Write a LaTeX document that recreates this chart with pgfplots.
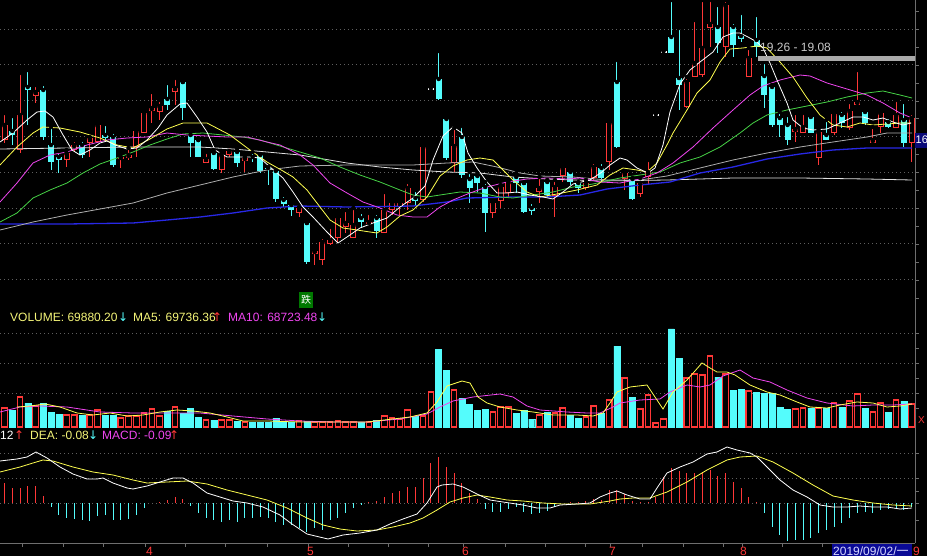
\documentclass[border=0pt]{standalone}
\usepackage{pgfplots}
\pgfplotsset{compat=1.18}
\usepackage{pgfplotstable}
\usepackage{fontspec}
\setmainfont{Liberation Sans}
\newfontfamily\dv{DejaVu Sans}
\newfontfamily\cjk{Noto Sans CJK SC}

\definecolor{kred}{RGB}{255,55,55}
\definecolor{kcyan}{RGB}{84,252,252}
\definecolor{kyel}{RGB}{255,255,80}
\definecolor{kmag}{RGB}{240,70,240}
\definecolor{kgrn}{RGB}{70,210,70}
\definecolor{kgray}{RGB}{175,175,175}
\definecolor{kblue}{RGB}{40,40,230}
\definecolor{kgrid}{RGB}{95,95,95}
\definecolor{kframe}{RGB}{110,110,110}
\definecolor{ktxt}{RGB}{245,245,120}
\definecolor{kdate}{RGB}{10,10,150}
\definecolor{kdatetxt}{RGB}{215,215,255}
\definecolor{kband}{RGB}{170,170,170}
\definecolor{kbandtxt}{RGB}{200,200,200}
\definecolor{kbox}{RGB}{10,10,120}
\definecolor{kdie}{RGB}{0,120,0}
\definecolor{kwhite}{RGB}{225,225,225}

% candles: i, high, body top, body bottom, low (screen px, top = 0), volume (px)
\pgfplotstableread{
i h t b l v
0 113 125 140 143 19
2 73 115 150 153 30
4 85 92 96 103 21
8 150 153 160 167 12
9 140 145 150 152 12
11 137 138 143 157 12
12 122 125 142 143 17
15 153 157 159 168 9
16 148 155 158 160 11
17 128 131 147 157 11
18 110 113 133 133 14
19 92 108 111 123 18
20 100 106 112 120 11
22 78 88 92 105 20
26 152 159 163 163 7
28 153 155 170 173 7
29 146 151 155 157 7
31 157 158 161 172 5
38 207 208 213 217 6
40 250 251 254 265 5
41 237 242 260 265 5
42 227 240 244 245 5
43 217 218 238 243 6
44 210 223 227 233 5
45 208 225 238 238 5
47 213 222 224 225 5
49 192 210 233 233 11
50 200 203 210 215 9
51 202 203 207 215 8
52 182 188 203 210 17
54 147 147 200 202 11
58 128 146 163 172 37
63 202 203 213 218 15
64 185 187 201 208 20
65 180 182 193 198 20
69 177 188 192 203 12
71 180 187 196 217 14
72 167 168 176 182 19
75 180 183 188 190 10
76 162 167 178 180 21
78 123 123 162 170 27
80 172 173 179 190 49
82 178 183 194 197 18
83 160 172 177 185 32
88 77 82 107 108 49
89 20 63 77 77 53
90 0 48 75 77 52
91 0 24 28 47 71
93 0 5 47 57 53
96 48 58 77 77 36
102 113 129 132 142 18
103 113 127 133 133 19
105 130 132 158 165 19
107 112 114 133 135 24
109 102 111 128 130 26
110 70 102 105 105 33
112 127 140 143 143 15
113 113 113 127 133 24
115 100 115 128 128 27
117 113 118 143 162 23
}\candup

\pgfplotstableread{
i h t b l v
1 116 131 135 145 17
3 70 87 90 125 24
5 84 90 137 140 24
6 127 145 162 170 15
7 151 157 160 173 13
10 140 145 155 158 12
13 124 135 138 142 12
14 132 137 165 167 12
21 83 99 105 110 16
23 82 82 108 120 14
24 132 135 143 157 19
25 140 140 157 157 10
27 150 153 169 170 7
30 149 152 163 167 6
32 152 157 158 162 5
33 154 155 171 173 5
34 167 168 169 185 5
35 170 171 199 202 9
36 195 200 204 207 6
37 203 205 210 216 5
39 223 223 262 264 6
46 212 218 222 228 5
48 213 218 231 238 7
53 190 198 201 205 11
56 51 79 99 100 78
57 117 119 158 160 57
59 126 137 175 178 29
60 172 179 188 203 23
61 173 176 183 192 17
62 182 187 213 232 18
66 173 177 183 193 14
67 183 183 212 213 17
68 202 208 211 215 8
70 180 182 195 197 15
73 168 172 182 185 12
74 182 183 188 193 9
77 162 168 178 182 14
79 60 82 147 148 81
81 178 179 199 200 30
86 0 37 53 53 98
87 28 78 85 110 69
92 5 27 43 53 50
94 22 27 45 57 37
95 13 36 39 42 38
97 15 40 47 57 35
98 62 76 95 108 34
99 85 87 125 127 34
100 112 118 125 137 20
101 115 125 140 145 18
104 113 117 133 133 19
106 120 135 140 140 19
108 110 115 123 128 20
111 110 112 123 125 19
114 117 122 127 128 15
116 102 120 143 147 26
}\canddn

% one-price days
\pgfplotstableread{
i y v
55 89 35
84 115 4
85 52 8
}\candflat

% MACD histogram (px from zero line, up positive)
\pgfplotstableread{
i m
0 20
1 15
2 15
3 17
4 17
5 7
6 -4
7 -12
8 -15
9 -16
10 -17
11 -18
12 -13
13 -12
14 -17
15 -17
16 -16
17 -12
18 -5
19 0
20 1
21 3
22 6
23 4
24 -3
25 -10
26 -15
27 -17
28 -19
29 -17
30 -19
31 -15
32 -15
33 -14
34 -15
35 -19
36 -22
37 -22
38 -25
39 -29
40 -25
41 -27
42 -17
43 -15
44 -10
45 -5
46 -2
47 1
48 2
49 6
50 10
51 12
52 16
53 16
54 25
55 40
56 46
57 36
58 30
59 20
60 10
61 4
62 -6
63 -9
64 -9
65 -6
66 -4
67 -9
68 -11
69 -10
70 -8
71 -4
72 0
73 1
74 1
75 2
76 4
77 3
78 13
79 13
80 9
81 2
82 1
83 1
84 6
85 26
86 35
87 32
88 30
89 30
90 31
91 33
92 27
93 30
94 21
95 15
96 6
97 1
98 -10
99 -24
100 -32
101 -38
102 -37
103 -37
104 -35
105 -30
106 -27
107 -24
108 -20
109 -15
110 -10
111 -9
112 -10
113 -7
114 -6
115 -5
116 -7
117 -4
}\macdtab

\pgfplotsset{
  panel/.style={scale only axis, width=915pt, xmin=0, xmax=915,
    axis line style={draw=none}, tick style={draw=none},
    xtick=\empty, yticklabels={}, ymajorgrids,
    grid style={kgrid, dash pattern=on 1pt off 3pt, line width=0.7pt},
    anchor=north west},
  table/cx/.style={x expr=4.5+7.753*\thisrow{i}},
  ebar/.style 2 args={only marks, mark=none,
    error bars/y dir=plus, error bars/y explicit, error bars/error mark=none,
    error bars/error bar style={draw=#1, line width=#2, line cap=butt}},
  ma/.style={mark=none, line width=0.8pt, #1},
}

\begin{document}
\begin{tikzpicture}
\useasboundingbox (0pt,0pt) rectangle (927pt,-556pt);
\fill[black] (0pt,0pt) rectangle (927pt,-556pt);

% ---------------- price panel ----------------
\begin{axis}[panel, at={(0pt,0pt)}, height=308pt, ymin=0, ymax=308, y dir=reverse,
  ytick={29,64.8,100.6,136.4,172.2,208,243.8,279.6}]
% wicks
\addplot[ebar={kred}{1pt}] table[cx, y=h, y error expr=\thisrow{l}-\thisrow{h}] \candup;
\addplot[ebar={kcyan}{1pt}] table[cx, y=h, y error expr=\thisrow{l}-\thisrow{h}] \canddn;
% bodies
\addplot[ebar={kcyan}{6pt}] table[cx, y=t, y error expr={max(\thisrow{b}-\thisrow{t},1)}] \canddn;
\addplot[ebar={kred}{6pt}] table[cx, y=t, y error expr={max(\thisrow{b}-\thisrow{t},1)}] \candup;
\addplot[ebar={black}{4pt}] table[cx, y expr=\thisrow{t}+1, y error expr={max(\thisrow{b}-\thisrow{t}-2,0)}] \candup;
\addplot[ebar={white}{6pt}] table[cx, y expr=\thisrow{y}-0.7, y error expr=1.4] \candflat;
% moving averages
\addplot[ma=kwhite] coordinates {(0,149)(67,148)(133,147)(200,147)(233,149)(267,152)(300,155)(347,163)(380,167)(413,170)(447,172)(480,173)(513,177)(547,179)(600,181)(667,180)(733,178)(800,178)(867,179)(912,180)};
\addplot[ma=kblue, line width=1.3pt] coordinates {(0,224)(67,224)(133,223)(167,220)(200,217)(233,213)(267,208)(300,206)(347,207)(413,206)(447,202)(467,198)(513,197)(547,197)(580,195)(607,189)(640,185)(670,182)(700,173)(733,167)(767,159)(800,154)(833,150)(867,148)(912,148)};
\addplot[ma=kgray] coordinates {(0,230)(33,222)(67,215)(100,209)(133,203)(167,193)(200,185)(233,177)(267,170)(300,166)(347,165)(413,165)(447,163)(473,162)(497,167)(520,173)(540,176)(573,177)(607,180)(640,180)(667,176)(700,168)(733,160)(767,153)(800,147)(833,142)(867,137)(887,133)(912,133)};
\addplot[ma=kgrn] coordinates {(0,222)(17,213)(33,198)(50,190)(67,183)(83,173)(100,164)(117,158)(133,152)(150,145)(167,139)(183,134)(203,133)(223,135)(243,137)(260,140)(280,146)(300,152)(320,158)(340,167)(360,175)(380,182)(400,190)(413,195)(427,197)(440,195)(460,192)(480,193)(500,197)(513,198)(533,195)(553,192)(573,187)(593,184)(620,178)(640,175)(660,172)(680,163)(700,157)(720,147)(740,133)(753,123)(767,115)(787,110)(807,106)(827,102)(847,97)(867,93)(883,91)(900,95)(912,98)};
\addplot[ma=kmag] coordinates {(0,202)(17,183)(33,163)(50,155)(67,152)(87,145)(107,140)(127,138)(147,137)(167,133)(187,135)(207,136)(227,137)(247,137)(267,142)(280,145)(300,155)(313,165)(330,183)(347,193)(363,202)(380,208)(397,215)(413,217)(427,217)(440,207)(453,200)(470,193)(487,187)(507,182)(527,179)(547,178)(567,179)(580,178)(600,182)(620,183)(640,179)(657,173)(673,163)(693,147)(713,128)(733,110)(750,95)(763,86)(780,80)(800,75)(810,76)(827,83)(847,89)(867,95)(883,103)(900,113)(912,118)};
\addplot[ma=kyel] coordinates {(0,165)(17,147)(33,133)(43,127)(60,128)(80,132)(100,138)(117,145)(133,148)(150,139)(167,129)(183,123)(207,123)(230,135)(250,150)(267,162)(283,171)(293,177)(307,190)(320,207)(330,220)(343,228)(357,230)(370,232)(377,233)(387,227)(400,216)(413,210)(427,197)(440,176)(453,166)(467,160)(480,158)(493,160)(503,170)(513,180)(527,192)(540,197)(557,194)(577,190)(597,185)(610,175)(623,168)(637,170)(647,172)(657,163)(668,143)(673,133)(687,110)(697,93)(710,80)(720,62)(730,49)(743,48)(757,46)(767,48)(780,62)(793,77)(807,98)(820,115)(833,125)(847,127)(860,123)(873,125)(887,124)(900,123)(911,123)};
\addplot[ma=white] coordinates {(0,142)(13,133)(27,120)(37,112)(45,111)(53,117)(63,135)(72,150)(80,155)(90,150)(100,143)(107,141)(115,145)(127,149)(137,148)(147,140)(158,128)(167,115)(180,104)(187,103)(197,117)(207,132)(215,150)(227,157)(240,157)(250,157)(260,158)(270,167)(283,178)(293,192)(303,207)(313,217)(327,232)(338,243)(347,237)(360,228)(373,223)(387,218)(400,207)(413,198)(425,186)(433,160)(443,136)(453,127)(462,133)(468,153)(477,168)(487,182)(497,193)(507,193)(517,192)(530,195)(543,197)(553,199)(563,192)(573,184)(590,180)(602,172)(610,165)(620,158)(627,160)(637,168)(648,173)(655,168)(663,145)(670,112)(680,84)(690,70)(700,62)(713,52)(723,37)(733,33)(740,33)(748,37)(757,42)(763,48)(770,63)(777,80)(787,103)(793,120)(803,128)(813,130)(827,129)(840,123)(853,117)(863,117)(873,120)(883,118)(893,122)(903,125)(911,123)};
\end{axis}

% ---------------- volume panel ----------------
\begin{axis}[panel, at={(0pt,-308pt)}, height=119pt, ymin=0, ymax=119, ytick={34,64,94}]
\addplot[ybar, bar width=6, bar shift=0pt, draw=kcyan, fill=kcyan] table[cx, y=v] \canddn;
\addplot[ybar, bar width=5.5, bar shift=0pt, draw=kred, fill=black, line width=1.1pt] table[cx, y=v] \candup;
\addplot[ybar, bar width=5.5, bar shift=0pt, draw=kred, fill=black, line width=1.1pt] table[cx, y=v] \candflat;
\addplot[ma=kmag] coordinates {(0,15)(20,20)(40,21)(67,20)(100,15)(133,14)(167,14)(200,14)(233,11)(267,8)(300,6)(333,5)(367,5)(400,8)(427,13)(440,20)(453,26)(473,30)(500,33)(513,30)(527,21)(540,17)(567,15)(587,14)(600,14)(613,20)(620,24)(640,27)(660,28)(670,35)(687,42)(700,40)(710,42)(723,51)(740,57)(753,49)(770,45)(787,37)(807,29)(827,24)(853,21)(873,22)(893,22)(912,23)};
\addplot[ma=kyel] coordinates {(17,20)(30,21)(45,23)(60,20)(77,14)(93,12)(110,14)(127,11)(143,12)(160,15)(177,17)(193,16)(210,14)(227,10)(243,6)(267,6)(300,5)(367,5)(410,10)(427,14)(437,25)(447,41)(462,46)(470,44)(478,30)(487,24)(500,20)(517,17)(533,15)(553,12)(577,12)(593,11)(603,14)(610,24)(617,35)(630,40)(647,42)(655,30)(663,18)(673,35)(687,47)(702,64)(710,59)(717,55)(727,55)(735,52)(750,42)(767,35)(780,32)(797,25)(810,20)(827,19)(840,22)(857,25)(873,24)(887,20)(900,21)(912,23)};
\end{axis}

% ---------------- MACD panel ----------------
\begin{axis}[panel, at={(0pt,-428pt)}, height=115pt, ymin=-40, ymax=75, ytick={0,25,50}]
\addplot[ycomb, kred, line width=1pt, mark=none] table[cx, y expr={max(\thisrow{m},0)}] \macdtab;
\addplot[ycomb, kcyan, line width=1pt, mark=none] table[cx, y expr={min(\thisrow{m},0)}] \macdtab;
\addplot[ma=kyel] coordinates {(0,31)(20,36)(33,40)(43,43)(53,42)(73,36)(93,31)(113,28)(133,23)(147,20)(167,21)(187,22)(207,19)(227,13)(247,8)(267,3)(287,-5)(307,-15)(323,-22)(340,-26)(357,-28)(377,-27)(393,-24)(410,-20)(423,-15)(437,-7)(450,1)(463,5)(477,8)(490,6)(507,3)(523,2)(543,0)(563,-1)(590,-1)(610,2)(620,4)(633,5)(650,5)(667,11)(687,21)(707,33)(727,43)(740,46)(757,47)(773,41)(793,30)(813,18)(833,7)(853,3)(873,0)(893,-2)(912,-3)};
\addplot[ma=white] coordinates {(0,42)(17,44)(27,46)(36,51)(47,45)(60,36)(73,29)(87,24)(97,24)(103,25)(113,20)(127,15)(133,14)(147,17)(160,21)(173,25)(183,25)(193,20)(207,10)(220,6)(233,2)(247,0)(263,-4)(280,-12)(292,-21)(307,-31)(328,-36)(343,-32)(360,-30)(377,-27)(390,-21)(403,-16)(417,-11)(427,0)(437,16)(442,18)(453,19)(463,16)(477,9)(490,3)(503,1)(523,-2)(537,-5)(550,-5)(560,-2)(577,-1)(590,0)(600,6)(610,10)(617,12)(627,8)(640,4)(650,4)(657,15)(667,30)(680,36)(693,41)(707,49)(717,51)(727,56)(737,53)(750,50)(757,46)(767,36)(780,23)(793,13)(807,6)(820,-2)(833,-4)(847,-4)(860,-3)(873,-4)(887,-4)(900,-6)(912,-5)};
\end{axis}

% ---------------- frame, labels ----------------
\begin{scope}[x=1pt, y=-1pt,
  every node/.style={inner sep=0pt, anchor=base west, font=\fontsize{12}{14}\selectfont}]
  % right scale and bottom time axis
  \draw[kframe, line width=0.8pt] (915,0) -- (915,543);
  \draw[kframe, line width=0.8pt] (0,543) -- (915,543);
  \foreach \yy in {11,29,47,65,83,101,118,136,154,172,190,208,226,244,262,280,298}
    \draw[kframe, line width=0.8pt] (915,\yy) -- (919,\yy);
  \foreach \yy in {333,348,363,378,393,408}
    \draw[kframe, line width=0.8pt] (915,\yy) -- (919,\yy);
  \foreach \yy in {453,478,491,503,520}
    \draw[kframe, line width=0.8pt] (915,\yy) -- (919,\yy);
  \foreach \xx in {22,63,103,145,185,225,267,308,348,388,428,463,505,545,585,610,642,683,723,742,782,822,862,902}
    \draw[kframe, line width=0.8pt] (\xx,543) -- (\xx,547);

  % month labels
  \node[text=kred] at (146,555) {4};
  \node[text=kred] at (307,555) {5};
  \node[text=kred] at (462,555) {6};
  \node[text=kred] at (609,555) {7};
  \node[text=kred] at (740,555) {8};
  \node[text=kred] at (913,555) {9};
  \fill[kdate] (832,544) rectangle (912,556);
  \node[text=kdatetxt] at (833,555) {2019/09/02/{\cjk 一}};

  % volume legend
  \node[text=ktxt] at (10,321.5) {VOLUME: 69880.20};
  \node[text=kcyan, font=\dv\fontsize{12}{14}\selectfont] at (118,321.5) {↓};
  \node[text=ktxt] at (133,321.5) {MA5: 69736.36};
  \node[text=kred, font=\dv\fontsize{12}{14}\selectfont] at (212,321.5) {↑};
  \node[text=kmag] at (228,321.5) {MA10: 68723.48};
  \node[text=kcyan, font=\dv\fontsize{12}{14}\selectfont] at (317,321.5) {↓};

  % MACD legend (its start lies left of the picture)
  \node[text=white] at (0,439.5) {12};
  \node[text=kred, font=\dv\fontsize{12}{14}\selectfont] at (14,439.5) {↑};
  \node[text=ktxt] at (30,439.5) {DEA: -0.08};
  \node[text=kcyan, font=\dv\fontsize{12}{14}\selectfont] at (88,439.5) {↓};
  \node[text=kmag] at (102,439.5) {MACD: -0.09};
  \node[text=kred, font=\dv\fontsize{12}{14}\selectfont] at (169,439.5) {↑};

  % price annotations
  \fill[kband] (758,56) rectangle (915,61);
  \node[text=kbandtxt] at (760,51.7) {19.26 - 19.08};
  \fill[kbox] (915,133) rectangle (927,148);
  \node[text=white, font=\fontsize{11}{12}\selectfont] at (915.5,144) {16};
  \fill[kdie] (299,292) rectangle (313,308);
  \node[text=white, anchor=center, font=\cjk\fontsize{10}{10}\selectfont] at (306,300) {跌};
  \node[text=kred, font=\fontsize{10}{12}\selectfont] at (918,423) {X};
\end{scope}
\end{tikzpicture}
\end{document}
